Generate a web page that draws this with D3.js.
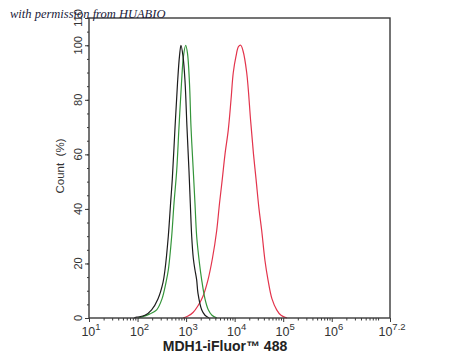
<!DOCTYPE html>
<html><head><meta charset="utf-8">
<script src="https://cdn.jsdelivr.net/npm/d3@7"></script>
<style>html,body{margin:0;padding:0;background:#fff;}svg{display:block;}</style>
</head><body>
<svg id="chart" width="450" height="360"></svg>
<script>
// ---- data ----
const xLabelText = "MDH1-iFluor™ 488";
const yLabelText = "Count  (%)";
const watermark = "with permission from HUABIO";
const xTickExps = ["1", "2", "3", "4", "5", "6", "7.2"];
const yTickValues = [0, 20, 40, 60, 80, 100, 110];

const blackX = [85, 98, 142, 195, 263, 334, 367, 430, 479, 520, 592, 665, 731, 785, 863, 949, 1042, 1147, 1221, 1304, 1406, 1524, 1651, 1758, 2094, 2449, 2965];
const blackY = [0, 0.3, 1, 3, 7, 13, 17.6, 30, 42, 51, 70, 86, 96, 100, 96, 87, 70, 54, 42, 30, 22, 17.6, 14, 9, 3, 1, 0];

const greenX = [102, 124, 180, 248, 319, 385, 430, 505, 563, 640, 714, 803, 883, 981, 1069, 1175, 1262, 1406, 1524, 1651, 1888, 2094, 2449, 2864, 3412, 4325];
const greenY = [0, 0.4, 1.5, 3, 7, 13, 17.6, 30, 42, 54, 70, 86, 96, 100, 97, 86, 70, 54, 42, 30, 20, 14, 7, 3, 1, 0];

const redX = [863, 1094, 1387, 1758, 2228, 2825, 3499, 4266, 4875, 5572, 6324, 7396, 8414, 9376, 10670, 11995, 13335, 14859, 17701, 21427, 24480, 27560, 31747, 36123, 42170, 48640, 58750, 73450, 90150, 119700];
const redY = [0, 0.7, 2, 4.5, 8, 14, 22, 32, 42, 51, 60, 69, 80, 90, 96, 99.5, 100, 98, 90, 72, 60, 51, 40, 32, 21, 14, 7, 3, 1, 0];

const seriesColors = ["#1c1c1c", "#34953a", "#e3344c"];

// ---- layout ----
const svg = d3.select("#chart");
const L = 89, R = 390, T = 18, B = 318;
const x = d3.scaleLog().domain([10, Math.pow(10, 7.2)]).range([L, R]);
const y = d3.scaleLinear().domain([0, 110]).range([B, T]);

// curves
const line = d3.line().x(d => x(d[0])).y(d => Math.min(B, y(d[1]))).curve(d3.curveCatmullRom.alpha(0.5));
const series = [[blackX, blackY], [greenX, greenY], [redX, redY]];
[2, 1, 0].forEach(i => {
  const [xs, ys] = series[i];
  svg.append("path")
    .datum(xs.map((v, j) => [v, ys[j]]))
    .attr("d", line)
    .attr("fill", "none")
    .attr("stroke", seriesColors[i])
    .attr("stroke-width", 1.2)
    .attr("stroke-linejoin", "round");
});

// x-axis ticks (minor + major)
const axisColor = "#3a3a3a";
const minorX = [];
for (let e = 1; e <= 7; e++) for (let m = 2; m <= 9; m++) { const v = m * Math.pow(10, e); if (v < Math.pow(10, 7.2)) minorX.push(v); }
const majorX = xTickExps.map(e => Math.pow(10, +e));
svg.append("g").attr("transform", `translate(0,${B})`)
  .call(d3.axisBottom(x).tickValues(minorX).tickSize(2.5).tickFormat(""))
  .call(g => g.select(".domain").remove())
  .call(g => g.selectAll("line").attr("stroke", axisColor));
svg.append("g").attr("transform", `translate(0,${B})`)
  .call(d3.axisBottom(x).tickValues(majorX).tickSize(4).tickFormat(""))
  .call(g => g.select(".domain").remove())
  .call(g => g.selectAll("line").attr("stroke", axisColor));
xTickExps.forEach(e => {
  const t = svg.append("text")
    .attr("x", x(Math.pow(10, +e)) + 2)
    .attr("y", 336)
    .attr("text-anchor", "middle")
    .attr("font-family", "Liberation Sans, Arial, sans-serif")
    .attr("font-size", 12.5)
    .attr("fill", "#333");
  t.append("tspan").text("10");
  t.append("tspan").attr("dy", -6).attr("font-size", 9.5).text(e);
});

// y-axis ticks
svg.append("g").attr("transform", `translate(${L},0)`)
  .call(d3.axisLeft(y).tickValues(d3.range(0, 111, 5)).tickSize(2).tickFormat(""))
  .call(g => g.select(".domain").remove())
  .call(g => g.selectAll("line").attr("stroke", axisColor));
svg.append("g").attr("transform", `translate(${L},0)`)
  .call(d3.axisLeft(y).tickValues(yTickValues).tickSize(4).tickFormat(""))
  .call(g => g.select(".domain").remove())
  .call(g => g.selectAll("line").attr("stroke", axisColor));
yTickValues.forEach(v => {
  svg.append("text")
    .attr("transform", `translate(82,${y(v)}) rotate(-90)`)
    .attr("text-anchor", "middle")
    .attr("font-family", "Liberation Sans, Arial, sans-serif")
    .attr("font-size", 11)
    .attr("fill", "#333")
    .text(v);
});

// frame
svg.append("rect")
  .attr("x", L).attr("y", T).attr("width", R - L).attr("height", B - T)
  .attr("fill", "none").attr("stroke", axisColor).attr("stroke-width", 1.4);

// axis titles
svg.append("text")
  .attr("x", 225).attr("y", 351)
  .attr("text-anchor", "middle")
  .attr("font-family", "Liberation Sans, Arial, sans-serif")
  .attr("font-size", 14).attr("font-weight", "bold")
  .attr("fill", "#222")
  .text(xLabelText);
svg.append("text")
  .attr("transform", `translate(64,166) rotate(-90)`)
  .attr("text-anchor", "middle")
  .attr("font-family", "Liberation Sans, Arial, sans-serif")
  .attr("font-size", 11.5)
  .attr("fill", "#333")
  .style("white-space", "pre")
  .text(yLabelText);

// watermark
svg.append("text")
  .attr("x", 10).attr("y", 18)
  .attr("font-family", "Liberation Serif, DejaVu Serif, serif")
  .attr("font-style", "italic")
  .attr("font-size", 12.5)
  .attr("fill", "#1b1b3a")
  .text(watermark);
</script>
</body></html>
